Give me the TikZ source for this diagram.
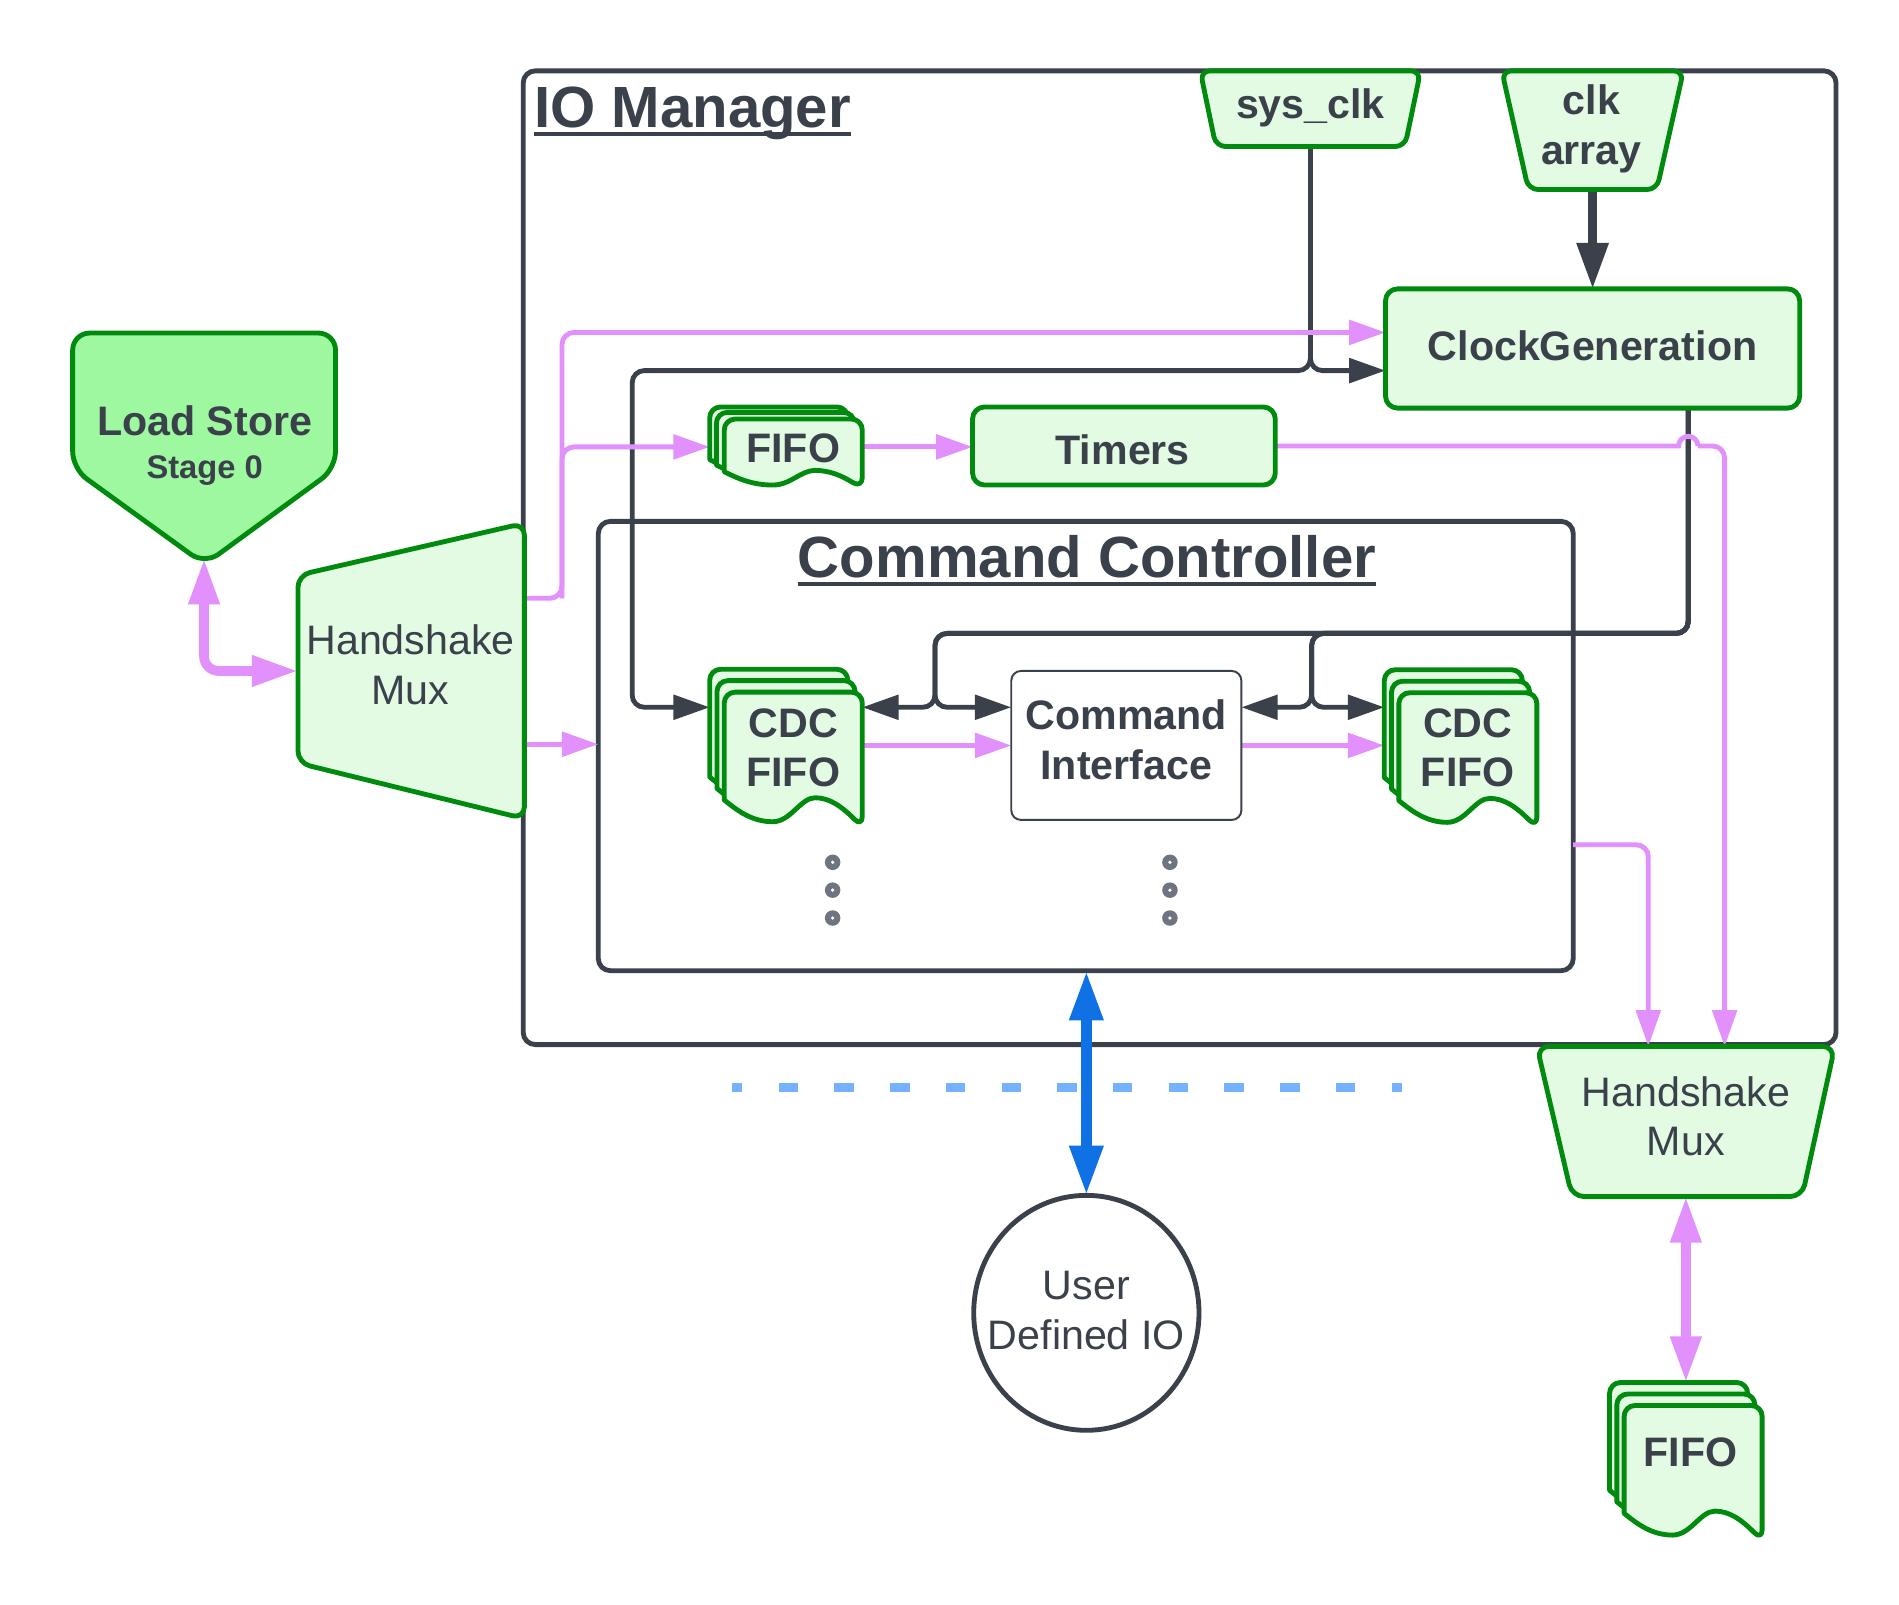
\documentclass[tikz,border=0pt]{standalone}
\usepackage{fontspec}
\setmainfont{Liberation Sans}
\usetikzlibrary{arrows.meta,fit,shapes.geometric}
\pgfdeclarelayer{bg}
\pgfsetlayers{bg,main}
\definecolor{dk}{HTML}{3A414A}
\definecolor{gr}{HTML}{008A0E}
\definecolor{lgr}{HTML}{E3FAE3}
\definecolor{lsg}{HTML}{9EF8A0}
\definecolor{pk}{HTML}{E190FC}
\definecolor{bl}{HTML}{1071E5}
\definecolor{dashbl}{HTML}{74B2FF}
\definecolor{dotc}{HTML}{6E7580}
\newcommand\docpage[4]{%
  \draw[gshape, shift={(#1,#2)}] (0,#3) [rounded corners=9pt] -- (0,0) -- (114,0) -- (114,{#3+1.25*#4})
    [sharp corners] .. controls (97,{#3+0.3*#4}) and (87,{#3-0.1*#4}) .. (75,{#3-0.1*#4})
    .. controls (63,{#3-0.1*#4}) and (55,{#3+#4}) .. (40,{#3+#4})
    .. controls (23,{#3+#4}) and (11,{#3+0.5*#4}) .. (0,#3) -- cycle;}
\begin{document}
\begin{tikzpicture}[x=1pt,y=-1pt,
  box/.style={inner sep=0pt,outer sep=0pt},
  gshape/.style={draw=gr,line width=4pt,fill=lgr,line join=round},
  container/.style={draw=dk,line width=4pt,rounded corners=10pt},
  txtb/.style={inner sep=0pt,text=dk,align=center,font=\bfseries\fontsize{34}{41}\selectfont},
  txtr/.style={inner sep=0pt,text=dk,align=center,font=\fontsize{34}{41}\selectfont},
  title/.style={inner sep=0pt,text=dk,font=\bfseries\fontsize{48}{56}\selectfont},
  pkl/.style={draw=pk,line width=4pt,rounded corners=10pt,-{Triangle[length=30pt,width=20pt]}},
  dkl/.style={draw=dk,line width=4pt,rounded corners=10pt,-{Triangle[length=30pt,width=20pt]}},
  pkthick/.style={draw=pk,line width=8pt,{Triangle[length=38pt,width=24pt]}-{Triangle[length=38pt,width=24pt]}},
  ]
\useasboundingbox (0,0) rectangle (1568,1325);

% ---------------- shapes (main layer)
% Load Store
\draw[gshape, fill=lsg, rounded corners=14pt] (60,275) -- (277,275) -- (277,387) -- (169,466) -- (60,387) -- cycle;
\node[box, fit={(60,275) (277,461)}] (ls) {};
% Handshake Mux (left)
\draw[gshape, rounded corners=10pt] (246,475) -- (433,432) -- (433,676) -- (246,630) -- cycle;
\node[box, fit={(246,432) (433,676)}] (hmL) {};
% sys_clk
\draw[gshape, rounded corners=8pt] (991,58.5) -- (1173,58.5) -- (1160,121) -- (1004,121) -- cycle;
\node[box, fit={(991,58.5) (1173,121)}] (sysclk) {};
% clk array
\draw[gshape, rounded corners=8pt] (1240,58.5) -- (1390,58.5) -- (1368,156.5) -- (1262,156.5) -- cycle;
\node[box, fit={(1240,58.5) (1390,156.5)}] (clkarr) {};
% ClockGeneration
\node[gshape, box, rounded corners=10pt, fit={(1144,238.5) (1486,337)}] (cg) {};
% Timers
\node[gshape, box, rounded corners=10pt, fit={(803,336) (1053,400.5)}] (timers) {};
% Command Interface
\node[draw=dk, line width=1.6pt, fill=white, box, rounded corners=8pt, fit={(835,554) (1025,677)}] (ci) {};
% Handshake Mux (right)
\draw[gshape, rounded corners=10pt] (1269,864) -- (1515,864) -- (1488,988) -- (1298,988) -- cycle;
\node[box, fit={(1269,864) (1515,988)}] (hmR) {};
% FIFO stacks
\docpage{586}{336}{43.5}{11}\docpage{591.5}{340.5}{43.5}{11}\docpage{598}{346}{43.5}{11}
\node[box, fit={(586,336) (712,402)}] (fifoT) {};
\docpage{586}{552.6}{89}{18}\docpage{592}{562}{89}{18}\docpage{598}{571.5}{89}{18}
\node[box, fit={(586,552.6) (712,683)}] (cdcL) {};
\docpage{1143}{553}{89}{18}\docpage{1149}{562.5}{89}{18}\docpage{1155}{572}{89}{18}
\node[box, fit={(1143,553) (1269,683)}] (cdcR) {};
\docpage{1329}{1141.5}{89}{18}\docpage{1335}{1151}{89}{18}\docpage{1341}{1160.5}{89}{18}
\node[box, fit={(1329,1141.5) (1455,1270)}] (fifoB) {};
% User Defined IO
\node[draw=dk, line width=4pt, ellipse, box, minimum width=186pt, minimum height=194pt] (udio) at (897,1084) {};
% ellipsis dots
\foreach \x in {687.5,966} \foreach \y in {712,735,758} {
  \fill[dotc] (\x,\y) circle[radius=6.4pt];
  \fill[white] (\x,\y) circle[radius=1.5pt];
}

% ---------------- texts
\node[title, anchor=base west] (iomT) at (441,105.6) {IO Manager};
\draw[dk, line width=3pt] ([yshift=-5pt]iomT.base west) -- ([yshift=-5pt]iomT.base east);
\node[title, anchor=base] (ccT) at (897.5,477) {Command Controller};
\draw[dk, line width=3pt] ([yshift=-5pt]ccT.base west) -- ([yshift=-5pt]ccT.base east);
\node[txtb, anchor=base] (lsT) at (169,359.5) {Load Store};
\node[txtb, anchor=base, font=\bfseries\fontsize{27}{32}\selectfont] (lsT2) at (169,395.5) {Stage 0};
\node[txtr] (hmLT) at (339,549) {Handshake\\Mux};
\node[txtb, anchor=base] (sysT) at (1082,98) {sys\_clk};
\node[txtb] (clkT) at (1314,106.4) {clk\\array};
\node[txtb, anchor=base] (cgT) at (1315,298) {ClockGeneration};
\node[txtb, anchor=base] (fifoTT) at (655,382) {FIFO};
\node[txtb, anchor=base] (timT) at (927,383.6) {Timers};
\node[txtb] (cdcLT) at (655,617.5) {CDC\\FIFO};
\node[txtb] (ciT) at (930,611) {Command\\Interface};
\node[txtb] (cdcRT) at (1212,617.5) {CDC\\FIFO};
\node[txtr] (hmRT) at (1392,921.6) {Handshake\\Mux};
\node[txtb, anchor=base] (fifoBT) at (1396,1211) {FIFO};
\node[txtr] (udT) at (897,1082) {User\\Defined IO};

% ---------------- background: containers and connectors
\begin{pgfonlayer}{bg}
\fill[white] (0,0) rectangle (1568,1325);
\node[container, box, fit={(432,58.5) (1516,862.5)}] (iom) {};
\node[container, box, fit={(494,430.5) (1299,801.5)}] (cc) {};
% routing points
\coordinate (pX) at (464,494);
\coordinate (yPinkTop) at (0,274.5);
\coordinate (yPkCC) at (0,614.5);
\coordinate (yLS) at (0,554);
\coordinate (ySys) at (0,306);
\coordinate (sB) at (522,306);
\coordinate (yD) at (0,584);
\coordinate (xR) at (1394,0);
\coordinate (fL) at (772,523);
\coordinate (fR) at (1083,523);
\coordinate (hopL) at (1386,0);
\coordinate (hopR) at (1402,0);
\coordinate (xPR) at (1424,0);
\coordinate (xP1) at (1361,0);
\coordinate (yCCpk) at (0,697.5);
\coordinate (dA) at (604,898);
\coordinate (dB) at (1158,898);
% dashed separator
\draw[draw=dashbl, line width=7pt, dash pattern=on 16pt off 30pt, dash phase=7pt] (dA) -- (dB);
% dark connectors
\draw[draw=dk, line width=7pt, -{Triangle[length=38pt,width=25pt]}] (clkarr.south) -- (cg.north -| clkarr.south);
\draw[dkl] (sysclk.south) |- (sB) |- (cdcL.west |- yD);
\draw[dkl] (sysclk.south) |- (cg.west |- ySys);
\draw[dkl] (cg.south -| xR) |- (fL) |- (cdcL.east |- yD);
\draw[dkl] (cg.south -| xR) |- (fL) |- (ci.west |- yD);
\draw[dkl] (cg.south -| xR) |- (fR) |- (ci.east |- yD);
\draw[dkl] (cg.south -| xR) |- (fR) |- (cdcR.west |- yD);
% pink connectors
\draw[pkthick, rounded corners=12pt] (ls.south) |- (hmL.west |- yLS);
\draw[pkl] (hmL.east |- pX) -- (pX) |- (cg.west |- yPinkTop);
\draw[pkl] (pX) |- (fifoT.west);
\draw[pkl] (hmL.east |- yPkCC) -- (cc.west |- yPkCC);
\draw[pkl] (fifoT.east) -- (fifoT.east -| timers.west);
\draw[draw=pk, line width=4pt] (timers.east) -- (hopL |- timers.east) arc[start angle=180,end angle=0,radius=8pt];
\draw[pkl] (hopR |- timers.east) -| (hmR.north -| xPR);
\draw[pkl] (cdcL.east |- ci.west) -- (ci.west);
\draw[pkl] (ci.east) -- (cdcR.west |- ci.east);
\draw[pkl] (cc.east |- yCCpk) -| (hmR.north -| xP1);
\draw[pkthick] (hmR.south) -- (fifoB.north);
% blue link
\draw[draw=bl, line width=9pt, {Triangle[length=41pt,width=26pt]}-{Triangle[length=41pt,width=26pt]}] (cc.south -| udio.north) -- (udio.north);
\end{pgfonlayer}
\end{tikzpicture}
\end{document}
